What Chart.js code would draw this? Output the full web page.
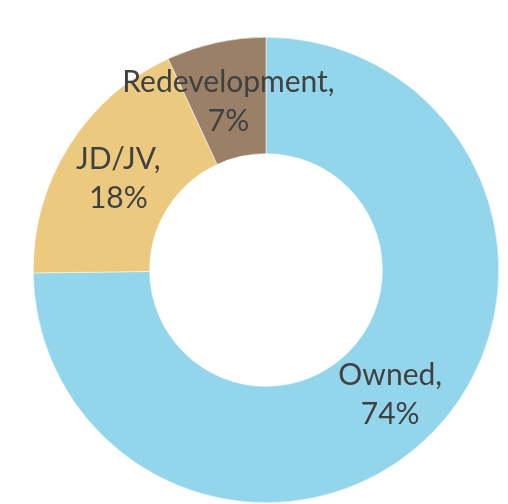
<!DOCTYPE html>
<html>
<head>
<meta charset="utf-8">
<script src="https://cdn.jsdelivr.net/npm/chart.js@4"></script>
<style>
  html, body { margin: 0; padding: 0; background: #fff; }
  #wrap { width: 508px; height: 504px; }
</style>
</head>
<body>
<div id="wrap"><canvas id="myChart" width="508" height="504"></canvas></div>
<script>
// data
const categories = ['Owned', 'JD/JV', 'Redevelopment'];
const shares = [74.8, 18.3, 6.9];
const shareLabels = ['74%', '18%', '7%'];
const sliceColors = ['#93D6EC', '#EBCA80', '#9A8067'];

// draws "Name," / "xx%" in each slice
const sliceLabels = {
  id: 'sliceLabels',
  afterDatasetsDraw(chart) {
    const ctx = chart.ctx;
    const meta = chart.getDatasetMeta(0);
    ctx.save();
    ctx.font = '30px Lato';
    ctx.fillStyle = '#404040';
    ctx.textAlign = 'center';
    ctx.textBaseline = 'alphabetic';
    meta.data.forEach((arc, i) => {
      const p = arc.tooltipPosition();
      ctx.fillText(categories[i] + ',', p.x, p.y - 8);
      ctx.fillText(shareLabels[i], p.x, p.y + 31);
    });
    ctx.restore();
  }
};

new Chart(document.getElementById('myChart').getContext('2d'), {
  type: 'doughnut',
  data: {
    labels: categories,
    datasets: [
      {
        data: shares,
        backgroundColor: sliceColors,
        borderColor: '#ffffff',
        borderWidth: 0.5
      }
    ]
  },
  options: {
    responsive: false,
    animation: false,
    cutout: '50%',
    layout: { padding: { top: 37, bottom: 1, left: 33, right: 9 } },
    plugins: {
      legend: { display: false },
      tooltip: { enabled: false }
    }
  },
  plugins: [sliceLabels]
});
</script>
</body>
</html>
